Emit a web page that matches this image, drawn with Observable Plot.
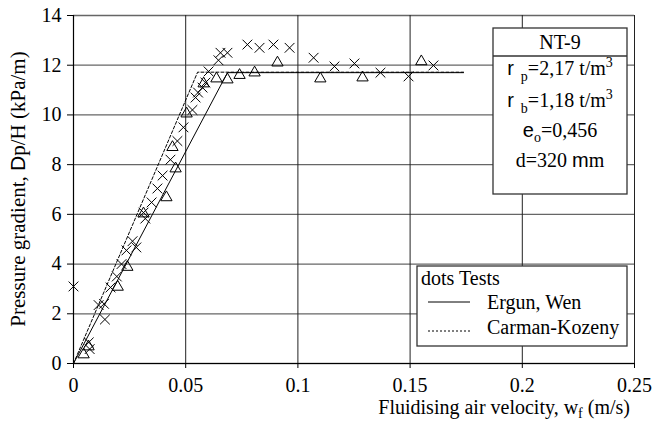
<!DOCTYPE html>
<html><head><meta charset="utf-8">
<script src="https://cdn.jsdelivr.net/npm/d3@7"></script>
<script src="https://cdn.jsdelivr.net/npm/@observablehq/plot@0.6"></script>
<style>
body{margin:0;background:#fff;}
#wrap{width:656px;height:421px;}
#wrap svg text{font-family:"Liberation Serif","Times New Roman",serif;}
</style></head><body><div id="wrap"></div>
<script>
// Tests, cross markers (velocity m/s, gradient kPa/m)
const crossV = [0, 0.0068, 0.0072, 0.0112, 0.0136, 0.014, 0.0165, 0.0193, 0.0214, 0.0236, 0.0263, 0.028,
  0.0312, 0.032, 0.0348, 0.0374, 0.0397, 0.0432, 0.0463, 0.049, 0.053, 0.0544, 0.0555, 0.0575, 0.0588, 0.0602,
  0.0646, 0.0655, 0.0686, 0.0775, 0.0829, 0.0891, 0.0963, 0.107, 0.1163, 0.1252, 0.1368, 0.1493, 0.1604];
const crossG = [3.1, 0.85, 0.58, 2.35, 2.4, 1.77, 3.06, 3.5, 4.0, 4.55, 4.92, 4.67,
  6.07, 5.83, 6.48, 7.04, 7.56, 8.2, 8.95, 9.5, 10.2, 10.7, 10.9, 11.1, 11.3, 11.75,
  12.2, 12.5, 12.5, 12.83, 12.7, 12.83, 12.7, 12.3, 11.95, 12.07, 11.7, 11.55, 11.99];
// Tests, triangle markers
const triV = [0.0045, 0.0067, 0.0197, 0.024, 0.0312, 0.0414, 0.0455, 0.0441, 0.0504, 0.058, 0.0637,
  0.0686, 0.074, 0.0807, 0.0909, 0.110, 0.1288, 0.155];
const triG = [0.36, 0.68, 3.08, 3.88, 6.03, 6.68, 7.84, 8.7, 10.05, 11.26, 11.46,
  11.42, 11.6, 11.7, 12.1, 11.46, 11.5, 12.15];
// Model curves
const ergunV = [0, 0.0686, 0.1738];
const ergunG = [0, 11.7, 11.7];
const carmanV = [0, 0.0553, 0.1738];
const carmanG = [0, 11.72, 11.72];
// Ticks
const xTicks = [0, 0.05, 0.1, 0.15, 0.2, 0.25];
const xTickLabels = ["0", "0.05", "0.1", "0.15", "0.2", "0.25"];
const yTicks = [0, 2, 4, 6, 8, 10, 12, 14];

const crosses = crossV.map((v, i) => ({v, g: crossG[i]}));
const tris = triV.map((v, i) => ({v, g: triG[i]}));
const ergun = ergunV.map((v, i) => ({v, g: ergunG[i]}));
const carman = carmanV.map((v, i) => ({v, g: carmanG[i]}));

const FONT = '"Liberation Serif", "Times New Roman", serif';
const SANS = '"Liberation Sans", Arial, sans-serif';

const chart = Plot.plot({
  width: 656, height: 421,
  marginLeft: 73, marginRight: 22, marginTop: 15, marginBottom: 58,
  style: {fontFamily: FONT, fontSize: "20px", color: "#000", background: "#fff"},
  x: {domain: [0, 0.25]},
  y: {domain: [0, 14]},
  marks: [
    Plot.gridY(yTicks, {stroke: "#666", strokeOpacity: 1, strokeWidth: 1.3}),
    Plot.gridX(xTicks, {stroke: "#222", strokeOpacity: 1, strokeWidth: 1}),
    Plot.axisY(yTicks, {tickSize: 6, tickPadding: 6, label: null, fontSize: 20, fontFamily: FONT}),
    Plot.axisX(xTicks, {tickSize: 5, tickPadding: 9, label: null, fontSize: 20, fontFamily: FONT,
      tickFormat: d => xTickLabels[xTicks.indexOf(d)]}),
    Plot.ruleX([0], {stroke: "#000", strokeWidth: 1.2}),
    Plot.ruleY([0], {stroke: "#000", strokeWidth: 1.2}),
    Plot.line(carman, {x: "v", y: "g", stroke: "#000", strokeWidth: 1, strokeDasharray: "3,2"}),
    Plot.line(ergun, {x: "v", y: "g", stroke: "#000", strokeWidth: 1}),
    Plot.dot(crosses, {x: "v", y: "g", symbol: "times", r: 4.5, stroke: "#000", fill: "none", strokeWidth: 1}),
    Plot.dot(tris, {x: "v", y: "g", symbol: "triangle", r: 4.2, stroke: "#000", fill: "none", strokeWidth: 1})
  ]
});
document.getElementById("wrap").appendChild(chart);

const svg = d3.select(chart);
// Axis titles
const yl = svg.append("text").attr("transform", "translate(25,189) rotate(-90)")
  .attr("text-anchor", "middle").attr("font-family", FONT).attr("font-size", 21).attr("fill", "#000");
yl.append("tspan").text("Pressure gradient, ");
yl.append("tspan").attr("font-family", SANS).text("D");
yl.append("tspan").text("p/H (kPa/m)");

const xl = svg.append("text").attr("x", 630).attr("y", 414)
  .attr("text-anchor", "end").attr("font-family", FONT).attr("font-size", 20).attr("fill", "#000");
xl.append("tspan").text("Fluidising air velocity, w");
xl.append("tspan").attr("font-size", 14).attr("dy", 4).text("f");
xl.append("tspan").attr("dy", -4).text(" (m/s)");

// Info box
const ib = svg.append("g").attr("font-family", FONT).attr("font-size", 20).attr("fill", "#000");
ib.append("rect").attr("x", 493).attr("y", 28).attr("width", 134).attr("height", 166)
  .attr("fill", "#fff").attr("stroke", "#333").attr("stroke-width", 1.3);
ib.append("line").attr("x1", 493).attr("x2", 627).attr("y1", 56).attr("y2", 56)
  .attr("stroke", "#333").attr("stroke-width", 1.3);
ib.append("text").attr("x", 560).attr("y", 49).attr("text-anchor", "middle").text("NT-9");
function rhoLine(y, sub, val) {
  const t = ib.append("text").attr("x", 560).attr("y", y).attr("text-anchor", "middle");
  t.append("tspan").attr("font-family", SANS).text("r");
  t.append("tspan").attr("font-size", 14).attr("dy", 6).attr("dx", 7).text(sub);
  t.append("tspan").attr("dy", -6).text("=" + val + " t/m");
  t.append("tspan").attr("font-size", 14).attr("dy", -8).text("3");
}
rhoLine(75, "p", "2,17");
rhoLine(107, "b", "1,18");
const e = ib.append("text").attr("x", 560).attr("y", 137).attr("text-anchor", "middle");
e.append("tspan").attr("font-family", SANS).text("e");
e.append("tspan").attr("font-size", 14).attr("dy", 5).text("o");
e.append("tspan").attr("dy", -5).text("=0,456");
const dd = ib.append("text").attr("x", 560).attr("y", 167).attr("text-anchor", "middle");
dd.append("tspan").text("d=320 ");
dd.append("tspan").attr("font-family", SANS).text("m");
dd.append("tspan").text("m");

// Legend
const lg = svg.append("g").attr("font-family", FONT).attr("font-size", 20).attr("fill", "#000")
  .attr("text-anchor", "start");
lg.append("rect").attr("x", 417).attr("y", 266).attr("width", 210).attr("height", 80)
  .attr("fill", "#fff").attr("stroke", "#333").attr("stroke-width", 1.3);
lg.append("text").attr("x", 421).attr("y", 285).attr("text-anchor", "start").text("dots Tests");
lg.append("line").attr("x1", 428).attr("x2", 470).attr("y1", 302).attr("y2", 302)
  .attr("stroke", "#000").attr("stroke-width", 1);
lg.append("text").attr("x", 487).attr("y", 309).attr("text-anchor", "start").text("Ergun, Wen");
lg.append("line").attr("x1", 428).attr("x2", 470).attr("y1", 331).attr("y2", 331)
  .attr("stroke", "#000").attr("stroke-width", 1).attr("stroke-dasharray", "2,2");
lg.append("text").attr("x", 487).attr("y", 334).attr("text-anchor", "start").text("Carman-Kozeny");
</script>
</body></html>
